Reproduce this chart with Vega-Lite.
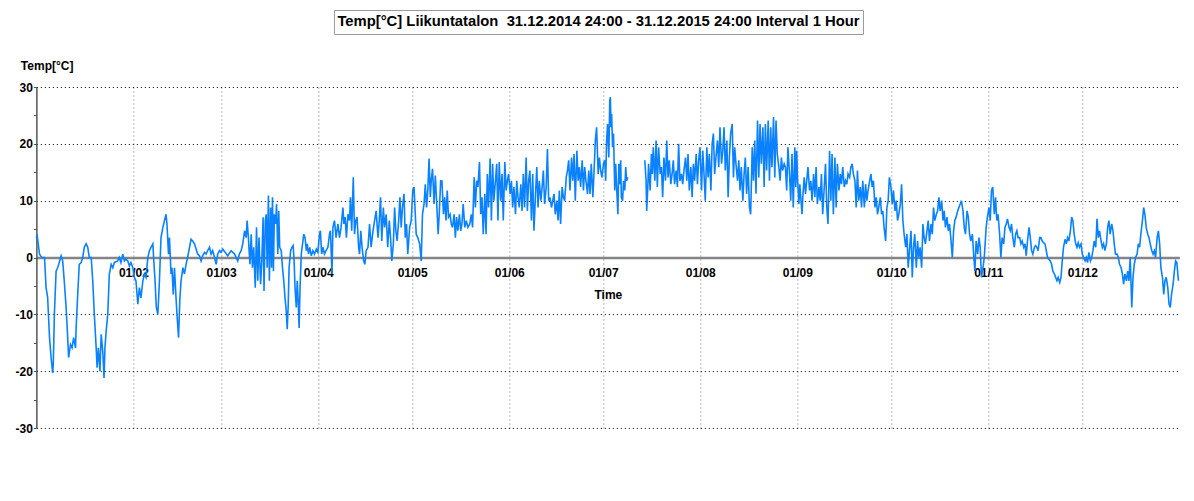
{
"$schema": "https://vega.github.io/schema/vega-lite/v6.json",
"background": "white",
"padding": {"left": 15, "top": 9, "right": 0, "bottom": 0},
"config": {"view": {"stroke": null}, "font": "Liberation Sans"},
"center": true,
"spacing": 24,
"vconcat": [
{
"width": 529, "height": 24,
"view": {"stroke": "#9a9a9a", "strokeWidth": 1, "fill": "white"},
"data": {"values": [{"title": "Temp[°C] Liikuntatalon\u00a0 31.12.2014 24:00 - 31.12.2015 24:00 Interval 1 Hour"}]},
"layer": [
{"mark": {"type": "text", "fontWeight": "bold", "fontSize": 14.8, "font": "Liberation Sans", "color": "black", "baseline": "middle", "align": "center"},
 "encoding": {"text": {"field": "title", "type": "nominal"}}},
{"mark": {"type": "text", "fontWeight": "bold", "fontSize": 14.8, "font": "Liberation Sans", "color": "black", "opacity": 0, "baseline": "middle", "align": "center", "dx": 24},
 "encoding": {"text": {"field": "title", "type": "nominal"}}}
]
},
{
"width": 1143, "height": 341,
"data": {"values": [
{"d":0,"t":3.5},{"d":0.2,"t":4.1},{"d":1.0,"t":0.6},{"d":1.7,"t":0},{"d":2.6,"t":0},{"d":3.1,"t":-5.3},{"d":3.6,"t":-7},{"d":4.2,"t":-14.1},{"d":4.7,"t":-17.6},{"d":5.2,"t":-20.3},{"d":5.4,"t":-18.8},{"d":5.75,"t":-10},{"d":6.3,"t":-2.4},{"d":6.8,"t":-1.8},{"d":7.3,"t":-0.9},{"d":7.9,"t":0.3},{"d":8.4,"t":-0.6},{"d":8.9,"t":-4.1},{"d":9.5,"t":-8.8},{"d":10.0,"t":-14.1},{"d":10.3,"t":-17.6},{"d":10.9,"t":-15.3},{"d":11.4,"t":-15.9},{"d":11.9,"t":-14.1},{"d":12.5,"t":-15.9},{"d":12.7,"t":-12.4},{"d":13.2,"t":-6.5},{"d":13.7,"t":-1.2},{"d":14.3,"t":-0.9},{"d":14.8,"t":0},{"d":15.3,"t":1.8},{"d":15.9,"t":2.4},{"d":16.4,"t":1.8},{"d":16.9,"t":0},{"d":17.5,"t":0},{"d":18.0,"t":-4.1},{"d":18.5,"t":-10},{"d":19.1,"t":-15.9},{"d":19.4,"t":-19.4},{"d":19.8,"t":-15.9},{"d":20.3,"t":-20},{"d":20.7,"t":-13.5},{"d":21.2,"t":-16.5},{"d":21.6,"t":-21.2},{"d":21.9,"t":-15.9},{"d":22.3,"t":-12.9},{"d":22.8,"t":-10},{"d":23.3,"t":-2.9},{"d":23.9,"t":-1.2},{"d":24.4,"t":-1.8},{"d":24.9,"t":-0.9},{"d":26.0,"t":-0.6},{"d":26.5,"t":0},{"d":27.0,"t":-0.9},{"d":27.6,"t":0.6},{"d":28.1,"t":-0.6},{"d":28.6,"t":-0.3},{"d":29.2,"t":-0.6},{"d":29.7,"t":-1.5},{"d":30.2,"t":-0.9},{"d":30.8,"t":-1.8},{"d":31.3,"t":-3.5},{"d":31.8,"t":-4.1},{"d":32.4,"t":-8.2},{"d":32.9,"t":-5.3},{"d":33.4,"t":-7.1},{"d":34.0,"t":-4.1},{"d":34.5,"t":-2.9},{"d":35.0,"t":-3.5},{"d":35.6,"t":0},{"d":36.1,"t":1.2},{"d":36.6,"t":1.8},{"d":37.2,"t":2.4},{"d":37.5,"t":-0.6},{"d":37.9,"t":-4.1},{"d":38.3,"t":-8.8},{"d":38.8,"t":-10},{"d":39.3,"t":-4.1},{"d":39.8,"t":3.5},{"d":40.4,"t":5.3},{"d":40.9,"t":6.5},{"d":41.4,"t":7.6},{"d":41.7,"t":5.9},{"d":42.2,"t":0.6},{"d":42.5,"t":3.5},{"d":43.0,"t":-2.9},{"d":43.3,"t":-1.8},{"d":43.7,"t":-6.5},{"d":44.1,"t":-1.8},{"d":44.6,"t":-7.1},{"d":44.9,"t":-10},{"d":45.4,"t":-14.1},{"d":45.8,"t":-7.6},{"d":46.2,"t":-4.1},{"d":46.8,"t":-1.8},{"d":47.3,"t":-2.9},{"d":47.8,"t":-1.2},{"d":48.3,"t":0},{"d":48.9,"t":1.8},{"d":49.4,"t":3.2},{"d":49.9,"t":2.9},{"d":50.5,"t":2.4},{"d":51.0,"t":1.5},{"d":51.5,"t":0.6},{"d":52.1,"t":0.3},{"d":52.6,"t":-0.6},{"d":53.1,"t":0.3},{"d":53.7,"t":0.9},{"d":54.2,"t":0.6},{"d":54.7,"t":1.2},{"d":55.3,"t":1.8},{"d":55.8,"t":0.6},{"d":56.3,"t":1.2},{"d":56.9,"t":0},{"d":57.4,"t":-1.2},{"d":57.9,"t":0.6},{"d":58.5,"t":1.2},{"d":59.0,"t":0.9},{"d":59.5,"t":1.5},
{"d":61.1,"t":0.3},{"d":62.2,"t":1.2},{"d":63.3,"t":0.6},{"d":64.3,"t":-0.6},{"d":64.8,"t":0.6},{"d":65.4,"t":1.2},{"d":65.9,"t":2.4},{"d":66.5,"t":4.7},{"d":67.0,"t":3.5},{"d":67.3,"t":6.5},{"d":67.7,"t":3.5},{"d":68.2,"t":-1.2},{"d":68.6,"t":4.1},{"d":69.0,"t":-1.8},{"d":69.4,"t":1.8},{"d":69.9,"t":-5.3},{"d":70.3,"t":5.3},{"d":70.7,"t":-4.1},{"d":71.1,"t":3.5},{"d":71.6,"t":-4.7},{"d":72.0,"t":-0.6},{"d":72.4,"t":7.1},{"d":72.7,"t":-5.9},{"d":73.1,"t":6.5},{"d":73.4,"t":7.6},{"d":73.7,"t":-1.8},{"d":74.1,"t":10.9},{"d":74.4,"t":-4.1},{"d":74.8,"t":8.8},{"d":75.1,"t":-1.8},{"d":75.4,"t":10.6},{"d":75.7,"t":-2.4},{"d":76.0,"t":7.6},{"d":76.4,"t":5.9},{"d":76.7,"t":9.4},{"d":77.1,"t":0.6},{"d":77.4,"t":8.2},{"d":77.7,"t":1.8},{"d":78.2,"t":1.2},{"d":78.6,"t":-1.8},{"d":79.0,"t":-4.1},{"d":79.4,"t":-7.1},{"d":79.8,"t":-9.4},{"d":80.1,"t":-12.6},{"d":80.4,"t":-8.8},{"d":80.7,"t":-1.8},{"d":81.2,"t":1.2},{"d":81.6,"t":1.8},{"d":82.0,"t":2.1},{"d":82.3,"t":-0.6},{"d":82.6,"t":-5.3},{"d":83.0,"t":-8.8},{"d":83.3,"t":-4.1},{"d":83.6,"t":-7.6},{"d":83.9,"t":-12.4},{"d":84.2,"t":-5.3},{"d":84.6,"t":0.6},{"d":85.0,"t":2.4},{"d":85.4,"t":4.1},{"d":85.8,"t":3.5},{"d":86.2,"t":1.2},{"d":86.5,"t":2.4},{"d":86.9,"t":0.6},{"d":87.3,"t":1.8},{"d":87.8,"t":0.3},{"d":88.3,"t":1.2},{"d":88.8,"t":0.6},{"d":89.4,"t":1.5},{"d":89.9,"t":0.9},{"d":90.4,"t":4.1},{"d":90.7,"t":4.7},{"d":91.1,"t":0.6},{"d":91.5,"t":1.8},{"d":92.0,"t":0.6},{"d":92.5,"t":1.2},{"d":93.1,"t":1.8},{"d":93.6,"t":4.1},{"d":93.9,"t":4.7},{"d":94.4,"t":-2.9},{"d":94.7,"t":5.3},{"d":95.2,"t":6.5},{"d":95.7,"t":3.5},{"d":96.3,"t":5.9},{"d":96.8,"t":3.5},{"d":97.3,"t":5.3},{"d":97.9,"t":8.8},{"d":98.2,"t":5.9},{"d":98.6,"t":7.1},{"d":99.0,"t":3.5},{"d":99.5,"t":7.6},{"d":100.0,"t":6.5},{"d":100.3,"t":10.6},{"d":100.7,"t":4.7},{"d":101.2,"t":14.1},{"d":101.6,"t":4.1},{"d":102.0,"t":6.5},{"d":102.4,"t":7.1},{"d":102.9,"t":1.8},{"d":103.2,"t":0.6},{"d":103.6,"t":4.7},{"d":104.0,"t":1.8},{"d":104.5,"t":-0.6},{"d":104.9,"t":-1.2},{"d":105.3,"t":1.2},{"d":105.9,"t":1.8},{"d":106.4,"t":5.9},{"d":106.9,"t":1.8},{"d":107.5,"t":4.7},{"d":108.0,"t":6.5},{"d":108.5,"t":8.2},{"d":109.1,"t":3.5},{"d":109.5,"t":6.5},{"d":109.9,"t":10.6},{"d":110.3,"t":2.9},{"d":110.8,"t":8.8},{"d":111.2,"t":5.3},{"d":111.7,"t":7.6},{"d":112.2,"t":1.8},{"d":112.7,"t":6.5},{"d":113.1,"t":3.5},{"d":113.5,"t":-0.6},{"d":114.0,"t":2.4},{"d":114.4,"t":8.8},{"d":114.8,"t":4.7},{"d":115.2,"t":2.9},{"d":115.7,"t":6.5},{"d":116.1,"t":10.6},{"d":116.5,"t":5.3},{"d":116.9,"t":8.8},{"d":117.4,"t":11.2},{"d":117.8,"t":3.5},{"d":118.2,"t":5.9},{"d":118.6,"t":0.6},{"d":119.2,"t":5.3},{"d":119.7,"t":6.5},{"d":120.2,"t":11.8},{"d":120.6,"t":12.4},
{"d":121.3,"t":4.1},{"d":121.8,"t":3.5},{"d":122.4,"t":2.4},{"d":122.9,"t":-0.6},{"d":123.3,"t":7.6},{"d":123.8,"t":9.4},{"d":124.2,"t":12.9},{"d":124.6,"t":8.8},{"d":125.0,"t":11.8},{"d":125.4,"t":17.4},{"d":125.8,"t":10.6},{"d":126.1,"t":13.5},{"d":126.5,"t":15.6},{"d":127.0,"t":9.4},{"d":127.4,"t":14.4},{"d":127.8,"t":10.0},{"d":128.3,"t":4.1},{"d":128.7,"t":8.2},{"d":129.1,"t":13.5},{"d":129.5,"t":13.5},{"d":130.0,"t":7.6},{"d":130.4,"t":10.6},{"d":130.8,"t":6.5},{"d":131.2,"t":11.8},{"d":131.6,"t":7.1},{"d":132.1,"t":7.6},{"d":132.5,"t":5.9},{"d":132.9,"t":5.3},{"d":133.4,"t":7.6},{"d":133.8,"t":3.5},{"d":134.2,"t":7.1},{"d":134.6,"t":4.7},{"d":135.1,"t":7.6},{"d":135.5,"t":4.7},{"d":135.9,"t":5.9},{"d":136.3,"t":9.4},{"d":136.8,"t":5.3},{"d":137.3,"t":6.5},{"d":137.8,"t":5.3},{"d":138.4,"t":5.9},{"d":138.9,"t":7.6},{"d":139.3,"t":5.3},{"d":139.8,"t":14.1},{"d":140.2,"t":8.8},{"d":140.6,"t":13.5},{"d":141.0,"t":12.4},{"d":141.5,"t":16.8},{"d":141.9,"t":7.6},{"d":142.3,"t":10.6},{"d":142.7,"t":4.1},{"d":143.2,"t":11.2},{"d":143.6,"t":4.1},{"d":144.0,"t":14.7},{"d":144.4,"t":8.8},{"d":144.9,"t":17.4},{"d":145.3,"t":6.5},{"d":145.7,"t":16.5},{"d":146.1,"t":10.0},{"d":146.6,"t":13.5},{"d":147.0,"t":16.5},{"d":147.4,"t":6.5},{"d":147.8,"t":16.8},{"d":148.3,"t":10.0},{"d":148.7,"t":14.7},{"d":149.1,"t":6.5},{"d":149.6,"t":16.8},{"d":150.0,"t":11.8},{"d":150.4,"t":13.5},{"d":150.8,"t":14.7},{"d":151.3,"t":11.2},{"d":151.7,"t":13.5},{"d":152.1,"t":8.8},{"d":152.5,"t":12.4},{"d":153.0,"t":7.6},{"d":153.4,"t":13.5},{"d":153.8,"t":10.6},{"d":154.2,"t":8.8},{"d":154.7,"t":12.9},{"d":155.1,"t":8.2},{"d":155.5,"t":14.7},{"d":155.9,"t":8.8},{"d":156.4,"t":17.6},{"d":156.8,"t":8.2},{"d":157.2,"t":13.5},{"d":157.6,"t":15.3},{"d":158.1,"t":6.5},{"d":158.5,"t":14.7},{"d":158.9,"t":4.7},{"d":159.4,"t":11.2},{"d":159.8,"t":15.9},{"d":160.2,"t":8.8},{"d":160.6,"t":13.5},{"d":161.1,"t":10.0},{"d":161.5,"t":12.4},{"d":161.9,"t":15.3},{"d":162.3,"t":9.4},{"d":162.8,"t":12.4},{"d":163.2,"t":19.1},{"d":163.6,"t":10.0},{"d":164.0,"t":10.6},{"d":164.5,"t":8.8},{"d":164.9,"t":10.0},{"d":165.3,"t":11.2},{"d":165.7,"t":7.6},{"d":166.2,"t":10.0},{"d":166.6,"t":6.5},{"d":167.0,"t":11.8},{"d":167.4,"t":5.9},{"d":167.9,"t":12.4},{"d":168.3,"t":10.6},{"d":168.7,"t":10.0},{"d":169.2,"t":14.1},{"d":169.6,"t":15.3},{"d":170.0,"t":17.1},{"d":170.4,"t":11.8},{"d":170.9,"t":17.6},{"d":171.3,"t":13.5},{"d":171.7,"t":18.2},{"d":172.1,"t":10.0},{"d":172.6,"t":18.8},{"d":173.0,"t":13.5},{"d":173.4,"t":15.9},{"d":173.8,"t":12.4},{"d":174.3,"t":17.1},{"d":174.7,"t":11.8},{"d":175.1,"t":15.9},{"d":175.5,"t":13.5},{"d":176.0,"t":11.2},{"d":176.4,"t":15.3},{"d":176.8,"t":11.2},{"d":177.2,"t":16.5},{"d":177.7,"t":10.6},{"d":178.1,"t":15.3},{"d":178.5,"t":20.6},{"d":178.9,"t":22.9},{"d":179.4,"t":14.7},{"d":179.8,"t":17.6},{"d":180.2,"t":15.3},{"d":180.6,"t":14.1},{"d":181.1,"t":16.5},
{"d":181.5,"t":17.1},{"d":181.8,"t":13.5},{"d":182.1,"t":20.6},{"d":182.4,"t":23.5},{"d":182.8,"t":17.6},{"d":183.1,"t":27.6},{"d":183.3,"t":28.2},{"d":183.5,"t":22.9},{"d":183.7,"t":25.3},{"d":184.0,"t":19.4},{"d":184.3,"t":21.8},{"d":184.7,"t":11.8},{"d":185.0,"t":16.5},{"d":185.3,"t":12.4},{"d":185.7,"t":7.6},{"d":186.0,"t":16.5},{"d":186.3,"t":12.9},{"d":186.6,"t":17.1},{"d":186.8,"t":10.6},{"d":187.2,"t":10.0},{"d":187.5,"t":13.5},{"d":187.9,"t":11.8},{"d":188.2,"t":15.9},{"d":188.5,"t":13.5},{"d":188.9,"t":14.1},{"d":191.5,"t":null},
{"d":194.3,"t":17.1},{"d":194.7,"t":13.5},{"d":194.9,"t":8.2},{"d":195.2,"t":11.8},{"d":195.5,"t":16.5},{"d":196.0,"t":11.8},{"d":196.4,"t":18.2},{"d":196.7,"t":14.7},{"d":197.0,"t":19.4},{"d":197.5,"t":13.5},{"d":197.9,"t":20.6},{"d":198.3,"t":12.4},{"d":198.7,"t":19.4},{"d":199.2,"t":14.7},{"d":199.6,"t":15.9},{"d":200.0,"t":10.6},{"d":200.4,"t":17.6},{"d":200.9,"t":13.5},{"d":201.3,"t":20.6},{"d":201.7,"t":14.1},{"d":202.1,"t":17.1},{"d":202.6,"t":12.9},{"d":203.0,"t":14.7},{"d":203.4,"t":17.1},{"d":203.8,"t":12.9},{"d":204.3,"t":15.3},{"d":204.7,"t":12.4},{"d":205.1,"t":20.0},{"d":205.5,"t":13.5},{"d":206.0,"t":14.7},{"d":206.4,"t":12.9},{"d":206.8,"t":15.3},{"d":207.3,"t":17.6},{"d":207.7,"t":13.5},{"d":208.1,"t":18.2},{"d":208.5,"t":11.8},{"d":209.0,"t":15.9},{"d":209.4,"t":10.6},{"d":209.8,"t":16.5},{"d":210.2,"t":13.5},{"d":210.7,"t":18.2},{"d":211.1,"t":12.9},{"d":211.5,"t":17.1},{"d":211.9,"t":19.4},{"d":212.4,"t":11.8},{"d":212.8,"t":18.8},{"d":213.2,"t":14.7},{"d":213.6,"t":10.0},{"d":214.1,"t":19.4},{"d":214.5,"t":14.1},{"d":214.9,"t":18.2},{"d":215.4,"t":11.8},{"d":215.8,"t":20.0},{"d":216.2,"t":21.8},{"d":216.6,"t":14.7},{"d":217.1,"t":18.2},{"d":217.5,"t":20.6},{"d":217.9,"t":15.9},{"d":218.3,"t":22.9},{"d":218.8,"t":16.5},{"d":219.2,"t":18.8},{"d":219.6,"t":22.9},{"d":220.0,"t":15.3},{"d":220.5,"t":20.6},{"d":220.9,"t":10.6},{"d":221.3,"t":17.6},{"d":221.7,"t":21.8},{"d":222.2,"t":23.5},{"d":222.6,"t":14.1},{"d":223.0,"t":19.4},{"d":223.4,"t":16.5},{"d":223.9,"t":13.5},{"d":224.3,"t":17.1},{"d":224.7,"t":11.8},{"d":225.1,"t":15.9},{"d":225.6,"t":10.0},{"d":226.0,"t":14.7},{"d":226.4,"t":17.6},{"d":226.8,"t":11.2},{"d":227.3,"t":15.9},{"d":227.7,"t":8.8},{"d":228.1,"t":7.6},{"d":228.6,"t":19.4},{"d":229.0,"t":13.5},{"d":229.4,"t":20.6},{"d":229.8,"t":11.2},{"d":230.3,"t":24.1},{"d":230.7,"t":14.1},{"d":231.1,"t":23.5},{"d":231.5,"t":16.5},{"d":232.0,"t":22.9},{"d":232.4,"t":12.4},{"d":232.8,"t":23.5},{"d":233.2,"t":15.3},{"d":233.7,"t":24.1},{"d":234.1,"t":13.5},{"d":234.5,"t":22.9},{"d":234.9,"t":15.9},{"d":235.4,"t":24.7},{"d":235.8,"t":14.1},{"d":236.2,"t":24.1},{"d":236.6,"t":18.2},{"d":237.1,"t":15.9},{"d":237.5,"t":13.5},{"d":237.9,"t":17.6},{"d":238.3,"t":15.3},{"d":238.8,"t":16.5},{"d":239.2,"t":15.9},{"d":239.6,"t":11.8},{"d":240.0,"t":19.4},{"d":240.5,"t":14.7},{"d":240.9,"t":10.0},{"d":241.3,"t":18.2},{"d":241.7,"t":8.8},{"d":242.2,"t":19.4},
{"d":242.5,"t":12.4},{"d":242.8,"t":18.8},{"d":243.1,"t":13.5},{"d":243.5,"t":9.4},{"d":243.8,"t":12.9},{"d":244.1,"t":10.6},{"d":244.5,"t":7.6},{"d":244.8,"t":11.2},{"d":245.2,"t":14.1},{"d":245.6,"t":11.2},{"d":246.0,"t":13.5},{"d":246.4,"t":15.9},{"d":246.9,"t":11.8},{"d":247.3,"t":13.5},{"d":247.7,"t":10.0},{"d":248.2,"t":14.7},{"d":248.6,"t":10.6},{"d":249.0,"t":15.9},{"d":249.4,"t":9.4},{"d":249.9,"t":12.4},{"d":250.3,"t":10.0},{"d":250.7,"t":14.7},{"d":251.1,"t":7.6},{"d":251.6,"t":12.4},{"d":252.0,"t":16.5},{"d":252.4,"t":8.8},{"d":252.8,"t":5.9},{"d":253.3,"t":18.8},{"d":253.7,"t":10.0},{"d":254.1,"t":18.2},{"d":254.5,"t":7.6},{"d":255.0,"t":17.6},{"d":255.4,"t":8.8},{"d":255.8,"t":16.5},{"d":256.3,"t":11.8},{"d":256.7,"t":14.7},{"d":257.1,"t":12.9},{"d":257.5,"t":15.9},{"d":258.0,"t":12.4},{"d":258.4,"t":13.5},{"d":258.8,"t":12.9},{"d":259.2,"t":14.7},{"d":259.7,"t":14.1},{"d":260.1,"t":15.9},{"d":260.5,"t":16.5},{"d":260.9,"t":14.7},{"d":261.4,"t":13.5},{"d":261.8,"t":8.8},{"d":262.2,"t":15.3},{"d":262.6,"t":10.0},{"d":263.1,"t":12.4},{"d":263.5,"t":8.8},{"d":263.9,"t":13.5},{"d":264.4,"t":8.8},{"d":264.8,"t":12.9},{"d":265.2,"t":10.0},{"d":265.6,"t":11.8},{"d":266.1,"t":13.5},{"d":266.5,"t":14.7},{"d":266.9,"t":12.4},{"d":267.3,"t":13.5},{"d":267.8,"t":8.8},{"d":268.2,"t":10.6},{"d":268.6,"t":7.6},{"d":269.0,"t":8.8},{"d":269.5,"t":10.6},{"d":269.9,"t":7.6},{"d":270.3,"t":8.2},{"d":270.7,"t":5.3},{"d":271.2,"t":2.9},{"d":271.6,"t":8.8},{"d":272.0,"t":10.0},{"d":272.4,"t":14.1},{"d":272.9,"t":12.4},{"d":273.3,"t":9.4},{"d":273.7,"t":11.8},{"d":274.2,"t":8.2},{"d":274.6,"t":10.0},{"d":275.0,"t":6.5},{"d":275.4,"t":7.6},{"d":275.9,"t":9.4},{"d":276.3,"t":12.9},{"d":276.7,"t":6.5},{"d":277.1,"t":4.1},{"d":277.6,"t":1.8},{"d":278.0,"t":4.1},{"d":278.4,"t":-1.8},{"d":278.8,"t":1.2},{"d":279.3,"t":4.7},{"d":279.7,"t":-3.5},{"d":280.1,"t":1.8},{"d":280.5,"t":4.1},{"d":281.0,"t":-1.8},{"d":281.4,"t":2.9},{"d":281.8,"t":0},{"d":282.2,"t":1.8},{"d":282.7,"t":-1.8},{"d":283.1,"t":5.9},{"d":283.5,"t":3.5},{"d":283.9,"t":2.4},{"d":284.4,"t":4.7},{"d":284.8,"t":6.5},{"d":285.2,"t":2.9},{"d":285.7,"t":5.9},{"d":286.1,"t":4.1},{"d":286.5,"t":8.8},{"d":286.9,"t":6.5},{"d":287.4,"t":7.6},{"d":287.8,"t":8.2},{"d":288.2,"t":10.6},{"d":288.6,"t":8.2},{"d":289.1,"t":10.0},{"d":289.5,"t":6.5},{"d":289.9,"t":8.2},{"d":290.3,"t":5.3},{"d":290.8,"t":7.1},{"d":291.2,"t":4.7},{"d":291.6,"t":5.9},{"d":292.0,"t":3.5},{"d":292.5,"t":0},{"d":292.9,"t":4.7},{"d":293.3,"t":6.5},{"d":293.7,"t":7.1},{"d":294.2,"t":8.2},{"d":294.6,"t":8.8},{"d":295.0,"t":9.4},{"d":295.4,"t":10.0},{"d":295.9,"t":8.2},{"d":296.3,"t":5.3},{"d":296.7,"t":4.1},{"d":297.2,"t":8.2},{"d":297.6,"t":7.1},{"d":298.0,"t":4.1},{"d":298.4,"t":2.9},{"d":298.9,"t":4.1},{"d":299.3,"t":0.6},{"d":299.7,"t":-2.4},{"d":300.1,"t":2.9},{"d":300.6,"t":0.6},{"d":301.0,"t":3.5},{"d":301.4,"t":1.8},{"d":301.8,"t":-3.5},{"d":302.3,"t":-1.8},{"d":302.7,"t":0},
{"d":303.3,"t":5.3},{"d":303.7,"t":7.1},{"d":304.2,"t":8.8},{"d":304.6,"t":6.5},{"d":305.0,"t":11.8},{"d":305.4,"t":12.4},{"d":305.9,"t":7.6},{"d":306.3,"t":10.6},{"d":306.7,"t":6.5},{"d":307.1,"t":7.6},{"d":307.6,"t":4.1},{"d":308.0,"t":0},{"d":308.4,"t":3.5},{"d":308.9,"t":2.4},{"d":309.3,"t":5.3},{"d":309.7,"t":5.9},{"d":310.1,"t":6.8},{"d":310.6,"t":5.3},{"d":311.0,"t":4.7},{"d":311.4,"t":5.9},{"d":311.8,"t":3.5},{"d":312.3,"t":1.8},{"d":312.7,"t":4.1},{"d":313.1,"t":4.7},{"d":313.5,"t":3.5},{"d":314.0,"t":3.5},{"d":314.4,"t":2.4},{"d":314.8,"t":2.9},{"d":315.3,"t":1.8},{"d":315.7,"t":2.4},{"d":316.1,"t":0.3},{"d":316.5,"t":2.9},{"d":317.0,"t":5.3},{"d":317.4,"t":3.5},{"d":317.8,"t":1.2},{"d":318.2,"t":0.6},{"d":318.7,"t":1.8},{"d":319.1,"t":2.1},{"d":319.5,"t":1.8},{"d":319.9,"t":1.2},{"d":320.4,"t":3.5},{"d":320.8,"t":3.5},{"d":321.2,"t":2.9},{"d":321.6,"t":2.6},{"d":322.1,"t":2.4},{"d":322.5,"t":1.2},{"d":322.9,"t":0},{"d":323.3,"t":-0.3},{"d":323.8,"t":-0.6},{"d":324.2,"t":-1.2},{"d":324.6,"t":-2.4},{"d":325.1,"t":-2.9},{"d":325.5,"t":-3.5},{"d":325.9,"t":-4.1},{"d":326.3,"t":-3.5},{"d":326.8,"t":-4.4},{"d":327.2,"t":-3.5},{"d":327.6,"t":-0.6},{"d":328.0,"t":1.8},{"d":328.5,"t":3.2},{"d":328.9,"t":2.4},{"d":329.3,"t":3.5},{"d":329.7,"t":2.9},{"d":330.2,"t":4.7},{"d":330.6,"t":7.1},{"d":331.0,"t":6.5},{"d":331.4,"t":4.1},{"d":331.9,"t":2.4},{"d":332.3,"t":1.8},{"d":332.7,"t":2.6},{"d":333.1,"t":1.8},{"d":333.6,"t":2.4},{"d":334.0,"t":0.6},{"d":334.4,"t":0},{"d":334.9,"t":-0.6},{"d":335.3,"t":0},{"d":335.7,"t":-0.9},{"d":336.1,"t":0.9},{"d":336.6,"t":-0.6},{"d":337.0,"t":0},{"d":337.4,"t":1.2},{"d":337.8,"t":2.9},{"d":338.3,"t":1.8},{"d":338.7,"t":6.8},{"d":339.1,"t":3.5},{"d":339.5,"t":4.7},{"d":340.0,"t":2.9},{"d":340.4,"t":1.8},{"d":340.8,"t":2.4},{"d":341.2,"t":1.2},{"d":341.7,"t":2.4},{"d":342.1,"t":5.3},{"d":342.5,"t":6.5},{"d":342.9,"t":4.1},{"d":343.4,"t":5.9},{"d":343.8,"t":4.7},{"d":344.2,"t":2.4},{"d":344.6,"t":0.6},{"d":345.1,"t":0.6},{"d":345.5,"t":0},{"d":345.9,"t":-1.2},{"d":346.4,"t":-1.8},{"d":346.8,"t":-2.9},{"d":347.2,"t":-4.7},{"d":347.6,"t":-2.9},{"d":348.1,"t":-4.1},{"d":348.5,"t":-2.4},{"d":348.9,"t":-4.1},{"d":349.3,"t":0},{"d":349.8,"t":-8.8},{"d":350.2,"t":-3.5},{"d":350.6,"t":-1.2},{"d":351.0,"t":0},{"d":351.5,"t":0.6},{"d":351.9,"t":2.4},{"d":352.3,"t":1.8},{"d":352.7,"t":4.1},{"d":353.2,"t":6.5},{"d":353.6,"t":8.8},{"d":354.0,"t":7.6},{"d":354.4,"t":5.3},{"d":354.9,"t":4.1},{"d":355.3,"t":3.5},{"d":355.7,"t":2.4},{"d":356.2,"t":1.2},{"d":356.6,"t":0.6},{"d":357.0,"t":1.2},{"d":357.4,"t":0},{"d":357.9,"t":3.5},{"d":358.3,"t":4.7},{"d":358.7,"t":2.4},{"d":359.1,"t":-1.8},{"d":359.6,"t":-3.5},{"d":360.0,"t":-6.5},{"d":360.4,"t":-4.1},{"d":360.8,"t":-3.5},{"d":361.3,"t":-5.3},{"d":361.7,"t":-8.2},{"d":362.1,"t":-8.8},{"d":362.5,"t":-6.5},{"d":363.0,"t":-4.7},{"d":363.4,"t":-2.4},{"d":363.8,"t":-0.6},{"d":364.2,"t":-0.9},{"d":364.7,"t":-4.1}
]},
"mark": {"type": "line", "color": "#0a82ff", "strokeWidth": 1.6},
"encoding": {
"x": {"field": "d", "type": "quantitative",
 "scale": {"domain": [0, 365], "nice": false, "zero": false},
 "axis": {"title": "Time", "values": [31,59,90,120,151,181,212,243,273,304,334],
  "labelExpr": "timeFormat(datetime(2015, 0, 1 + datum.value), '%d/%m')",
  "offset": -170.5, "zindex": 0,
  "domainColor": "#858585", "domainWidth": 2.5, "ticks": false,
  "labelFont": "Liberation Sans", "labelFontWeight": "bold", "labelFontSize": 12, "labelColor": "black", "labelPadding": 10,
  "labelFlush": false, "labelOverlap": false, "labelBound": false,
  "titleFont": "Liberation Sans", "titleFontWeight": "bold", "titleFontSize": 12, "titleColor": "black", "titlePadding": 11,
  "grid": true, "gridDash": [1, 3], "gridColor": "#707070", "gridWidth": 1}},
"y": {"field": "t", "type": "quantitative",
 "scale": {"domain": [-30, 30], "nice": false, "zero": false},
 "axis": {"title": "Temp[°C]", "titleAngle": 0, "titleAlign": "left", "titleBaseline": "middle", "titleX": -16, "titleY": -22,
  "titleFont": "Liberation Sans", "titleFontWeight": "bold", "titleFontSize": 12, "titleColor": "black",
  "values": [-30,-25,-20,-15,-10,-5,0,5,10,15,20,25,30],
  "labelExpr": "datum.value % 10 === 0 ? '' + datum.value : ''",
  "labelFont": "Liberation Sans", "labelFontWeight": "bold", "labelFontSize": 12, "labelColor": "black", "labelPadding": 1,
  "tickSize": 3, "tickColor": "#555555", "tickWidth": 1,
  "domainColor": "#555555", "domainWidth": 1.5,
  "grid": true, "gridDash": [1, 3], "gridColor": "black", "gridWidth": 1,
  "gridOpacity": {"condition": {"test": "datum.value % 10 !== 0", "value": 0}, "value": 1}}}
}
}
]
}
